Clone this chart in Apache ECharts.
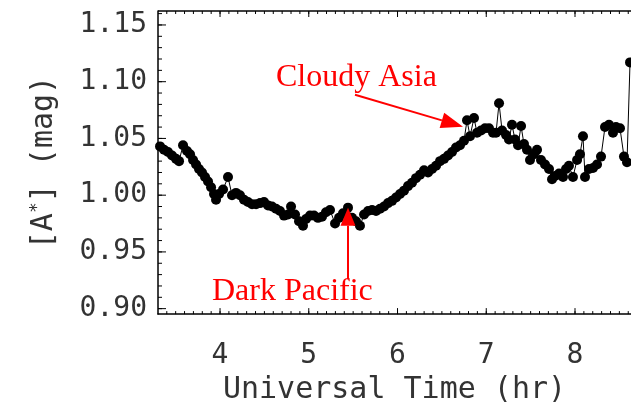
<!DOCTYPE html>
<html lang="en">
<head>
<meta charset="utf-8">
<title>Extinction vs UT</title>
<script src="https://cdn.jsdelivr.net/npm/echarts@6/dist/echarts.min.js"></script>
<style>
    html, body { margin: 0; padding: 0; background: #fff; }
    #main { width: 631px; height: 410px; }
</style>
</head>
<body>
<div id="main"></div>
<script type="text/javascript">
// universal time (hr) and extinction [A*] (mag)
var ut = [3.324, 3.369, 3.414, 3.459, 3.504, 3.538, 3.583, 3.628, 3.662, 3.696,
          3.730, 3.763, 3.797, 3.831, 3.865, 3.899, 3.932, 3.955, 3.989, 4.034,
          4.090, 4.135, 4.180, 4.225, 4.270, 4.315, 4.361, 4.406, 4.451, 4.496,
          4.541, 4.586, 4.631, 4.676, 4.721, 4.766, 4.800, 4.845, 4.890, 4.935,
          4.969, 5.014, 5.059, 5.104, 5.149, 5.194, 5.239, 5.296, 5.341, 5.386,
          5.442, 5.487, 5.532, 5.577, 5.623, 5.668, 5.713, 5.758, 5.803, 5.848,
          5.893, 5.938, 5.983, 6.028, 6.073, 6.118, 6.163, 6.208, 6.254, 6.299,
          6.344, 6.389, 6.434, 6.479, 6.524, 6.569, 6.614, 6.659, 6.704, 6.749,
          6.783, 6.817, 6.862, 6.896, 6.941, 6.986, 7.031, 7.076, 7.110, 7.144,
          7.178, 7.223, 7.256, 7.290, 7.324, 7.358, 7.392, 7.425, 7.459, 7.493,
          7.538, 7.572, 7.617, 7.662, 7.707, 7.741, 7.775, 7.820, 7.865, 7.899,
          7.932, 7.977, 8.023, 8.056, 8.090, 8.113, 8.158, 8.203, 8.248, 8.293,
          8.338, 8.383, 8.428, 8.462, 8.507, 8.552, 8.586, 8.620];
var mag = [1.043, 1.040, 1.038, 1.035, 1.032, 1.030, 1.044, 1.039, 1.036, 1.031,
           1.027, 1.023, 1.020, 1.016, 1.012, 1.007, 1.001, 0.996, 1.001, 1.005,
           1.016, 1.000, 1.002, 1.000, 0.996, 0.994, 0.992, 0.992, 0.993, 0.994,
           0.991, 0.990, 0.988, 0.986, 0.982, 0.983, 0.990, 0.983, 0.977, 0.973,
           0.979, 0.982, 0.982, 0.980, 0.981, 0.985, 0.987, 0.975, 0.980, 0.984,
           0.989, 0.980, 0.977, 0.973, 0.983, 0.986, 0.987, 0.986, 0.988, 0.990,
           0.993, 0.995, 0.998, 1.001, 1.004, 1.008, 1.011, 1.015, 1.018, 1.022,
           1.020, 1.023, 1.026, 1.030, 1.032, 1.035, 1.038, 1.042, 1.044, 1.048,
           1.066, 1.052, 1.068, 1.055, 1.057, 1.059, 1.059, 1.055, 1.055, 1.081,
           1.057, 1.053, 1.049, 1.062, 1.049, 1.044, 1.061, 1.045, 1.040, 1.031,
           1.036, 1.040, 1.031, 1.027, 1.023, 1.014, 1.017, 1.019, 1.016, 1.023,
           1.026, 1.016, 1.031, 1.036, 1.052, 1.016, 1.023, 1.024, 1.027, 1.034,
           1.060, 1.062, 1.055, 1.060, 1.059, 1.034, 1.029, 1.117];

var xTicks = [4, 5, 6, 7, 8];
var yTicks = [0.90, 0.95, 1.00, 1.05, 1.10, 1.15];

// annotation arrows, tail -> tip, in data units
var asiaArrow = [[5.521, 1.0885], [6.738, 1.0604]];
var pacificArrow = [[5.442, 0.926], [5.442, 0.989]];

// the frame runs off the right edge of the picture
var xMin = 3.301, xMax = 8.631;
var yMin = 0.8952, yMax = 1.1623;

// minor tick positions
var xMinor = [];
for (var i = 34; i <= 86; i++) xMinor.push(i / 10);
var yMinor = [];
for (var j = 90; j <= 116; j++) yMinor.push(j / 100);

// [value, kind, length]; kind 0 = x tick (bottom+top), 1 = y tick (left), 2 = top frame line
var frameMarks = [[0, 2, 0]];
xMinor.forEach(function (v) { frameMarks.push([v, 0, 3]); });
xTicks.forEach(function (v) { frameMarks.push([v, 0, 6]); });
yMinor.forEach(function (v) { frameMarks.push([v, 1, 4]); });
yTicks.forEach(function (v) { frameMarks.push([v, 1, 8]); });

var points = ut.map(function (t, k) { return [t, mag[k]]; });

var textFont = 'DejaVu Sans Mono';
var inkColor = '#333';

var myChart = echarts.init(document.getElementById('main'));

option = {
    backgroundColor: '#ffffff',
    animation: false,
    grid: { left: 158, top: 11, right: 0, height: 304, containLabel: false },
    xAxis: {
        type: 'value', min: xMin, max: xMax,
        axisLine: { show: true, onZero: false, lineStyle: { color: '#000', width: 1.5 } },
        axisTick: { show: false },
        axisLabel: {
            customValues: xTicks, margin: 28,
            fontFamily: textFont, fontSize: 28, color: inkColor
        },
        splitLine: { show: false },
        name: 'Universal Time (hr)',
        nameLocation: 'middle',
        nameGap: 58,
        nameTextStyle: { fontFamily: textFont, fontSize: 30, color: inkColor }
    },
    yAxis: {
        type: 'value', min: yMin, max: yMax,
        axisLine: { show: true, onZero: false, lineStyle: { color: '#000', width: 1.5 } },
        axisTick: { show: false },
        axisLabel: {
            customValues: yTicks, margin: 11,
            fontFamily: textFont, fontSize: 28, color: inkColor,
            formatter: function (v) { return v.toFixed(2); }
        },
        splitLine: { show: false },
        name: '[A{sup|*}] (mag)',
        nameLocation: 'middle',
        nameGap: 98,
        nameTextStyle: {
            fontFamily: textFont, fontSize: 30, color: inkColor,
            rich: { sup: { fontFamily: textFont, fontSize: 18, color: inkColor, padding: [0, 0, 14, 0] } }
        }
    },
    series: [{
        // inward ticks on the frame, placed with the axes' own scales
        type: 'custom',
        silent: true,
        clip: false,
        z: 1,
        data: frameMarks,
        renderItem: function (params, api) {
            var v = api.value(0), kind = api.value(1), len = api.value(2);
            var st = { stroke: '#000', lineWidth: 1 };
            if (kind === 2) {
                var a = api.coord([xMin, yMax]), b = api.coord([xMax, yMax]);
                return { type: 'line', shape: { x1: a[0], y1: a[1], x2: b[0] + 2, y2: b[1] },
                         style: { stroke: '#000', lineWidth: 1.5 } };
            }
            if (kind === 0) {
                var pb = api.coord([v, yMin]), pt = api.coord([v, yMax]);
                return { type: 'group', children: [
                    { type: 'line', shape: { x1: pb[0], y1: pb[1], x2: pb[0], y2: pb[1] - len }, style: st },
                    { type: 'line', shape: { x1: pt[0], y1: pt[1], x2: pt[0], y2: pt[1] + len }, style: st }
                ] };
            }
            var pl = api.coord([xMin, v]);
            return { type: 'line', shape: { x1: pl[0], y1: pl[1], x2: pl[0] + len, y2: pl[1] }, style: st };
        }
    }, {
        type: 'line',
        data: points,
        symbol: 'circle',
        symbolSize: 10,
        showAllSymbol: true,
        clip: false,
        itemStyle: { color: '#000' },
        lineStyle: { color: '#000', width: 1 },
        z: 3
    }]
};

myChart.setOption(option);

// red annotation arrows, built from the data-space anchors
function arrowShapes(arrow, headLen, headWid) {
    var p0 = myChart.convertToPixel({ gridIndex: 0 }, arrow[0]);
    var p1 = myChart.convertToPixel({ gridIndex: 0 }, arrow[1]);
    var dx = p1[0] - p0[0], dy = p1[1] - p0[1];
    var len = Math.sqrt(dx * dx + dy * dy);
    var ux = dx / len, uy = dy / len;
    var bx = p1[0] - ux * headLen, by = p1[1] - uy * headLen;
    var nx = -uy * headWid / 2, ny = ux * headWid / 2;
    return [
        { type: 'line', silent: true, z: 10,
          shape: { x1: p0[0], y1: p0[1], x2: bx, y2: by },
          style: { stroke: '#ff0000', lineWidth: 2 } },
        { type: 'polygon', silent: true, z: 10,
          shape: { points: [[p1[0], p1[1]], [bx + nx, by + ny], [bx - nx, by - ny]] },
          style: { fill: '#ff0000' } }
    ];
}

var graphics = [
    { type: 'text', left: 276, top: 62, silent: true, z: 10,
      style: { text: 'Cloudy Asia', font: '32px "Liberation Serif"', fill: '#ff0000' } },
    { type: 'text', left: 212, top: 276, silent: true, z: 10,
      style: { text: 'Dark Pacific', font: '32px "Liberation Serif"', fill: '#ff0000' } }
].concat(arrowShapes(asiaArrow, 22, 16), arrowShapes(pacificArrow, 18, 15));

myChart.setOption({ graphic: graphics });
</script>
</body>
</html>
